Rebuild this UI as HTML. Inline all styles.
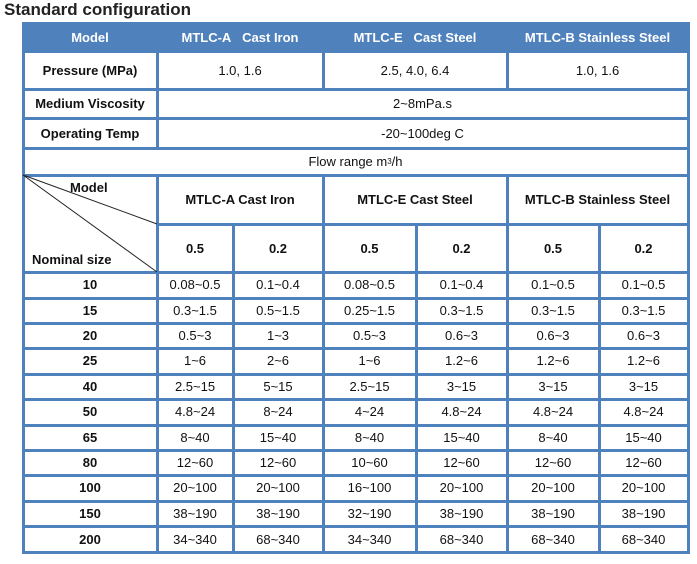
<!DOCTYPE html>
<html><head><meta charset="utf-8"><style>
body{margin:0;width:697px;height:564px;background:#fff;position:relative;overflow:hidden;font-family:"Liberation Sans",Arial,sans-serif;}
.t{position:absolute;left:4px;top:0px;font-size:17px;font-weight:bold;color:#222;}
.h{position:absolute;background:#4f81bd;height:3px;}
.v{position:absolute;background:#4f81bd;width:3px;}
.c{position:absolute;display:flex;align-items:center;justify-content:center;font-size:13px;color:#111;white-space:nowrap;}
.b{font-weight:bold;}
.w{color:#fff;font-weight:bold;}
</style></head><body>
<div class="t">Standard configuration</div>
<div style="position:absolute;left:22px;top:22px;width:667px;height:29px;background:#4f81bd"></div>
<div id="g"></div>
<svg style="position:absolute;left:0;top:0" width="697" height="564"><line x1="23" y1="175" x2="157" y2="224" stroke="#222" stroke-width="1"/><line x1="23" y1="175" x2="157" y2="272" stroke="#222" stroke-width="1"/></svg>
<script>
var g=document.getElementById('g'),s='';
function H(x1,x2,y){s+='<div class="h" style="left:'+x1+'px;width:'+(x2-x1+2)+'px;top:'+(y-1)+'px"></div>';}
function V(x,y1,y2){s+='<div class="v" style="left:'+(x-1)+'px;top:'+y1+'px;height:'+(y2-y1+1)+'px"></div>';}
function C(x1,x2,y1,y2,t,cl){s+='<div class="c '+(cl||'')+'" style="left:'+x1+'px;width:'+(x2-x1)+'px;top:'+y1+'px;height:'+(y2-y1)+'px">'+t+'</div>';}
[51,89,118,148,175,272].forEach(function(y){H(22,688,y)});
H(157,688,224);
var rows=[272,297.5,323,348,373.5,399,424.5,450,475,500.5,526,552];
rows.forEach(function(y){H(22,688,Math.round(y))});
V(23,22,553);V(688,22,553);
V(157,51,148);V(157,175,553);
V(323,51,89);V(507,51,89);V(323,175,553);V(507,175,553);
V(233,224,553);V(416,224,553);V(599,224,553);
C(23,157,23,51,'Model','w');C(157,323,23,51,'MTLC-A&nbsp;&nbsp; Cast Iron','w');C(323,507,23,51,'MTLC-E&nbsp;&nbsp; Cast Steel','w');C(507,688,23,51,'MTLC-B Stainless Steel','w');
C(23,157,51,89,'Pressure (MPa)','b');C(157,323,51,89,'1.0, 1.6');C(323,507,51,89,'2.5, 4.0, 6.4');C(507,688,51,89,'1.0, 1.6');
C(23,157,89,118,'Medium Viscosity','b');C(157,688,89,118,'2~8mPa.s');
C(23,157,118,148,'Operating Temp','b');C(157,688,118,148,'-20~100deg C');
C(23,688,148,175,'Flow range m<sup style="font-size:8px">3</sup>/h');
s+='<div class="c b" style="left:70px;top:180px">Model</div><div class="c b" style="left:32px;top:252px">Nominal size</div>';
C(157,323,175,224,'MTLC-A Cast Iron','b');C(323,507,175,224,'MTLC-E Cast Steel','b');C(507,688,175,224,'MTLC-B Stainless Steel','b');
var xs=[157,233,323,416,507,599,688];
for(var i=0;i<6;i++)C(xs[i],xs[i+1],224,272,i%2?'0.2':'0.5','b');
var d=[['10','0.08~0.5','0.1~0.4','0.08~0.5','0.1~0.4','0.1~0.5','0.1~0.5'],
['15','0.3~1.5','0.5~1.5','0.25~1.5','0.3~1.5','0.3~1.5','0.3~1.5'],
['20','0.5~3','1~3','0.5~3','0.6~3','0.6~3','0.6~3'],
['25','1~6','2~6','1~6','1.2~6','1.2~6','1.2~6'],
['40','2.5~15','5~15','2.5~15','3~15','3~15','3~15'],
['50','4.8~24','8~24','4~24','4.8~24','4.8~24','4.8~24'],
['65','8~40','15~40','8~40','15~40','8~40','15~40'],
['80','12~60','12~60','10~60','12~60','12~60','12~60'],
['100','20~100','20~100','16~100','20~100','20~100','20~100'],
['150','38~190','38~190','32~190','38~190','38~190','38~190'],
['200','34~340','68~340','34~340','68~340','68~340','68~340']];
var X=[23].concat(xs);
d.forEach(function(r,j){var y1=rows[j],y2=rows[j+1];for(var k=0;k<7;k++)C(X[k],X[k+1],y1,y2,r[k],k==0?'b':'');});
g.innerHTML=s;
</script>
</body></html>
